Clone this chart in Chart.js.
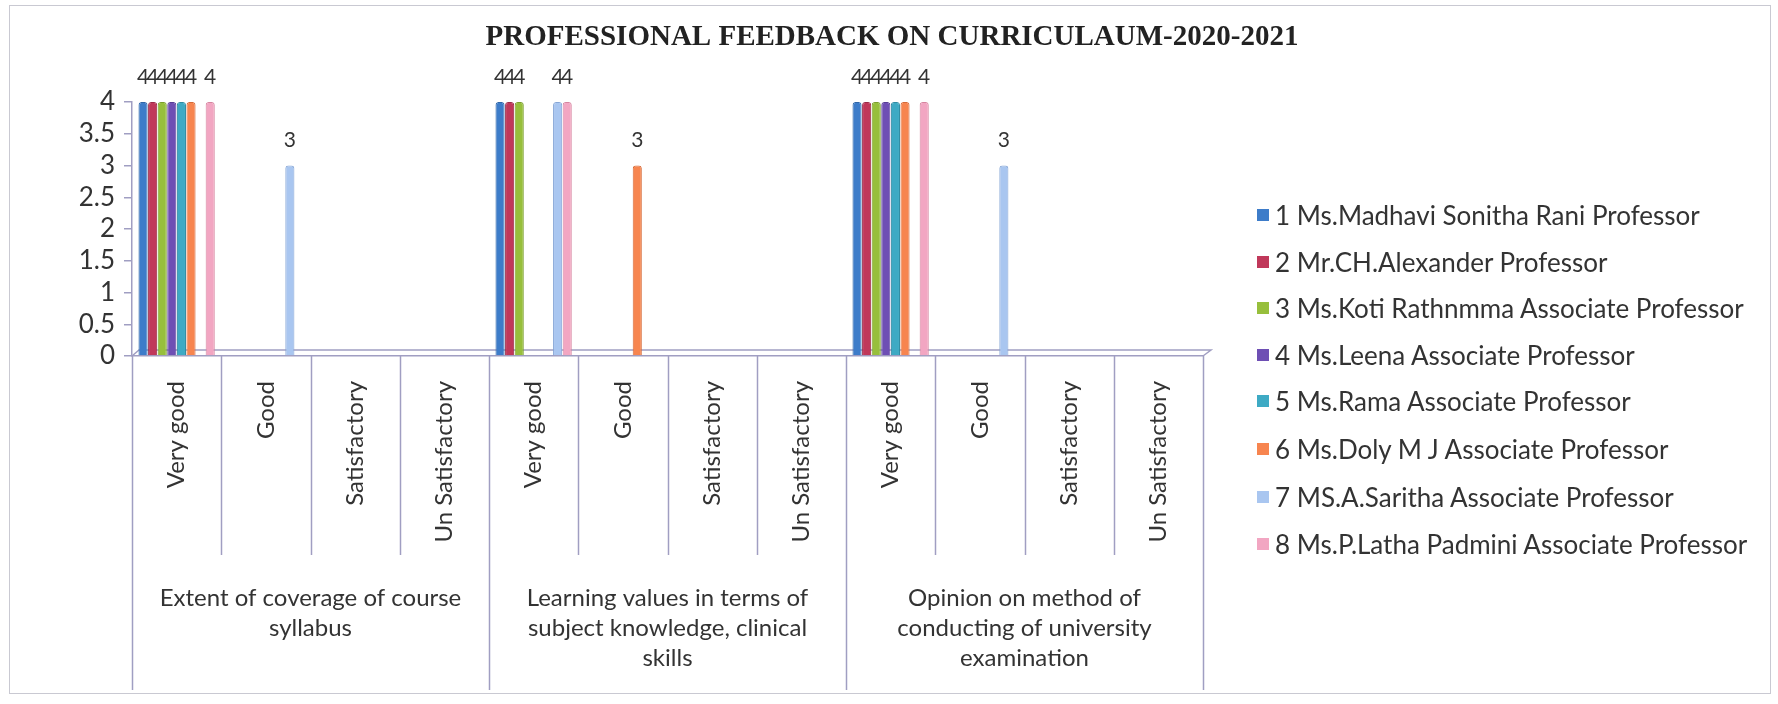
<!DOCTYPE html>
<html>
<head>
<meta charset="utf-8">
<script src="https://cdn.jsdelivr.net/npm/chart.js@4.4.1/dist/chart.umd.min.js"></script>
<style>
    body { margin: 0; background: #fff; }
    #wrap { position: relative; width: 1778px; height: 704px; }
    #legend { position: absolute; left: 1257px; top: 0; font-family: Lato, 'Open Sans', sans-serif; font-size: 26px; color: #333; }
    #legend .item { position: absolute; white-space: nowrap; display: flex; align-items: center; height: 30px; }
    #legend .box { width: 12px; height: 12px; margin-right: 6px; }
</style>
</head>
<body>
<div id="wrap">
    <canvas id="chart" width="1778" height="704"></canvas>
    <div id="legend"></div>
</div>
<script>
const categories = ['Very good', 'Good', 'Satisfactory', 'Un Satisfactory',
                    'Very good', 'Good', 'Satisfactory', 'Un Satisfactory',
                    'Very good', 'Good', 'Satisfactory', 'Un Satisfactory'];
const groups = [
    ['Extent of coverage of course', 'syllabus'],
    ['Learning values in terms of', 'subject knowledge, clinical', 'skills'],
    ['Opinion on method of', 'conducting of university', 'examination']
];
const seriesNames = [
    '1 Ms.Madhavi Sonitha Rani Professor',
    '2 Mr.CH.Alexander Professor',
    '3 Ms.Koti Rathnmma Associate Professor',
    '4 Ms.Leena Associate Professor',
    '5 Ms.Rama Associate Professor',
    '6 Ms.Doly M J Associate Professor',
    '7 MS.A.Saritha Associate Professor',
    '8 Ms.P.Latha Padmini Associate Professor'
];
const s1 = [4, null, null, null, 4, null, null, null, 4, null, null, null];
const s2 = [4, null, null, null, 4, null, null, null, 4, null, null, null];
const s3 = [4, null, null, null, 4, null, null, null, 4, null, null, null];
const s4 = [4, null, null, null, null, null, null, null, 4, null, null, null];
const s5 = [4, null, null, null, null, null, null, null, 4, null, null, null];
const s6 = [4, null, null, null, null, 3, null, null, 4, null, null, null];
const s7 = [null, 3, null, null, 4, null, null, null, null, 3, null, null];
const s8 = [4, null, null, null, 4, null, null, null, 4, null, null, null];
const yTicks = [0, 0.5, 1, 1.5, 2, 2.5, 3, 3.5, 4];
const titleText = 'PROFESSIONAL FEEDBACK ON CURRICULAUM-2020-2021';

const seriesData = [s1, s2, s3, s4, s5, s6, s7, s8];
const fills = ['#3d7cc9', '#c0385a', '#97bf3c', '#6e4fb4', '#3eaac4', '#f7854f', '#a9c6f0', '#f2a6c2'];
const edges = ['#2f66a8', '#9c2a48', '#7a9e2c', '#573c95', '#2f8ca3', '#d66a38', '#86a6d6', '#d6849f'];

const lineColor = '#a09ec2';
const textColor = '#333333';
const sansFont = 'Lato, "Open Sans", sans-serif';

// title, separators, group labels, floor and frame
const decorPlugin = {
    id: 'decor',
    beforeDatasetsDraw(chart) {
        const ctx = chart.ctx;
        const a = chart.chartArea;
        ctx.save();
        ctx.strokeStyle = lineColor;
        ctx.lineWidth = 1.5;
        ctx.beginPath();
        ctx.moveTo(a.left, a.bottom);
        ctx.lineTo(a.left + 7, a.bottom - 6);
        ctx.lineTo(a.right + 8, a.bottom - 6);
        ctx.lineTo(a.right, a.bottom);
        ctx.stroke();
        ctx.restore();
    },
    afterDraw(chart) {
        const ctx = chart.ctx;
        const x = chart.scales.x;
        const a = chart.chartArea;
        const half = (x.getPixelForValue(1) - x.getPixelForValue(0)) / 2;
        ctx.save();
        ctx.fillStyle = '#222';
        ctx.font = 'bold 29px "Liberation Serif", "Times New Roman", serif';
        ctx.textAlign = 'center';
        ctx.textBaseline = 'middle';
        ctx.fillText(titleText, 892, 38);

        ctx.strokeStyle = lineColor;
        ctx.lineWidth = 1.5;
        for (let i = 0; i <= categories.length; i++) {
            const px = Math.round(x.getPixelForValue(i) - half) + 0.5;
            ctx.beginPath();
            ctx.moveTo(px, a.bottom);
            ctx.lineTo(px, i % 4 === 0 ? 690 : 555);
            ctx.stroke();
        }
        ctx.fillStyle = textColor;
        ctx.font = '24px ' + sansFont;
        groups.forEach((lines, g) => {
            const cx = (x.getPixelForValue(g * 4) + x.getPixelForValue(g * 4 + 3)) / 2;
            lines.forEach((t, k) => ctx.fillText(t, cx, 598 + k * 30));
        });
        ctx.strokeStyle = '#c9c9d2';
        ctx.lineWidth = 1;
        ctx.strokeRect(9.5, 5.5, 1761, 688);
        ctx.restore();
    }
};

// value labels above bars
const valuePlugin = {
    id: 'values',
    afterDatasetsDraw(chart) {
        const ctx = chart.ctx;
        ctx.save();
        ctx.fillStyle = textColor;
        ctx.font = '21px ' + sansFont;
        ctx.textAlign = 'center';
        ctx.textBaseline = 'middle';
        chart.data.datasets.forEach((ds, i) => {
            chart.getDatasetMeta(i).data.forEach((bar, j) => {
                if (ds.data[j] === null) return;
                ctx.fillText(String(ds.data[j]), bar.x, bar.y - 25);
            });
        });
        ctx.restore();
    }
};

new Chart(document.getElementById('chart').getContext('2d'), {
    type: 'bar',
    data: {
        labels: categories,
        datasets: seriesData.map((d, i) => ({
            label: seriesNames[i],
            data: d,
            backgroundColor: fills[i],
            borderColor: edges[i],
            borderWidth: 1,
            borderRadius: { topLeft: 3, topRight: 3 },
            borderSkipped: 'bottom',
            categoryPercentage: 0.86,
            barPercentage: 0.95
        }))
    },
    options: {
        responsive: false,
        animation: false,
        layout: { padding: { left: 0, right: 575, top: 102, bottom: 0 } },
        plugins: {
            legend: { display: false },
            tooltip: { enabled: false },
            title: { display: false }
        },
        scales: {
            x: {
                grid: { display: false, drawTicks: false },
                border: { display: true, color: lineColor, width: 1.5 },
                ticks: {
                    autoSkip: false,
                    minRotation: 90,
                    maxRotation: 90,
                    padding: 25,
                    color: textColor,
                    font: { family: sansFont, size: 24 }
                },
                afterFit(scale) { scale.height = 348; }
            },
            y: {
                min: 0,
                max: 4,
                afterBuildTicks(scale) { scale.ticks = yTicks.map(v => ({ value: v })); },
                grid: { drawOnChartArea: false, drawTicks: true, tickLength: 8, color: lineColor, lineWidth: 1.5 },
                border: { display: true, color: lineColor, width: 1.5 },
                ticks: {
                    autoSkip: false,
                    padding: 9,
                    color: textColor,
                    font: { family: sansFont, size: 26 },
                    callback: v => String(v)
                },
                afterFit(scale) { scale.width = 132; }
            }
        }
    },
    plugins: [decorPlugin, valuePlugin]
});

// legend built from the same arrays
const legendRows = [215, 262, 308, 355, 401, 449, 497, 544];
const legend = document.getElementById('legend');
seriesNames.forEach((name, i) => {
    const item = document.createElement('div');
    item.className = 'item';
    item.style.top = (legendRows[i] - 15) + 'px';
    const box = document.createElement('span');
    box.className = 'box';
    box.style.background = fills[i];
    const label = document.createElement('span');
    label.textContent = name;
    item.appendChild(box);
    item.appendChild(label);
    legend.appendChild(item);
});
</script>
</body>
</html>
